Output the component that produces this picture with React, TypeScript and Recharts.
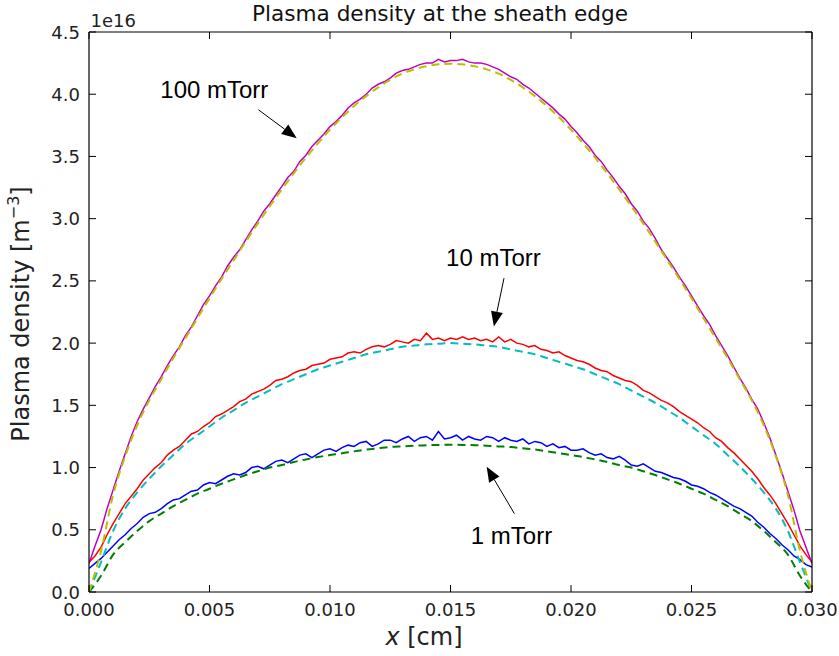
import React from "react";
import { LineChart, Line, XAxis, YAxis, ReferenceLine, ReferenceDot } from "recharts";

// simulation sample positions, cm
const xSim = [
  0, 0.00025, 0.0005, 0.00075, 0.001, 0.00125, 0.0015, 0.00175, 0.002, 0.00225,
  0.0025, 0.00275, 0.003, 0.00325, 0.0035, 0.00375, 0.004, 0.00425, 0.0045, 0.00475,
  0.005, 0.00525, 0.0055, 0.00575, 0.006, 0.00625, 0.0065, 0.00675, 0.007, 0.00725,
  0.0075, 0.00775, 0.008, 0.00825, 0.0085, 0.00875, 0.009, 0.00925, 0.0095, 0.00975,
  0.01, 0.01025, 0.0105, 0.01075, 0.011, 0.01125, 0.0115, 0.01175, 0.012, 0.01225,
  0.0125, 0.01275, 0.013, 0.01325, 0.0135, 0.01375, 0.014, 0.01425, 0.0145, 0.01475,
  0.015, 0.01525, 0.0155, 0.01575, 0.016, 0.01625, 0.0165, 0.01675, 0.017, 0.01725,
  0.0175, 0.01775, 0.018, 0.01825, 0.0185, 0.01875, 0.019, 0.01925, 0.0195, 0.01975,
  0.02, 0.02025, 0.0205, 0.02075, 0.021, 0.02125, 0.0215, 0.02175, 0.022, 0.02225,
  0.0225, 0.02275, 0.023, 0.02325, 0.0235, 0.02375, 0.024, 0.02425, 0.0245, 0.02475,
  0.025, 0.02525, 0.0255, 0.02575, 0.026, 0.02625, 0.0265, 0.02675, 0.027, 0.02725,
  0.0275, 0.02775, 0.028, 0.02825, 0.0285, 0.02875, 0.029, 0.02925, 0.0295, 0.02975,
  0.03,
];

// simulated densities, 1e16 m^-3
const sim100 = [
  0.23, 0.37, 0.5, 0.67, 0.82, 0.97, 1.11, 1.25, 1.37, 1.47,
  1.56, 1.65, 1.73, 1.82, 1.9, 1.97, 2.06, 2.13, 2.22, 2.31,
  2.38, 2.46, 2.53, 2.62, 2.69, 2.75, 2.83, 2.91, 2.98, 3.06,
  3.12, 3.19, 3.26, 3.33, 3.38, 3.46, 3.51, 3.58, 3.63, 3.68,
  3.74, 3.78, 3.83, 3.89, 3.93, 3.96, 4.0, 4.05, 4.08, 4.1,
  4.13, 4.17, 4.19, 4.2, 4.22, 4.24, 4.25, 4.25, 4.28, 4.26,
  4.27,
  4.27, 4.28, 4.26, 4.25, 4.25, 4.24, 4.22, 4.2, 4.17,
  4.14, 4.12, 4.08, 4.05, 4.01, 3.97, 3.93, 3.89, 3.84, 3.8,
  3.74, 3.69, 3.63, 3.58, 3.51, 3.46, 3.39, 3.33, 3.26, 3.2,
  3.12, 3.06, 2.98, 2.92, 2.84, 2.75, 2.68, 2.61, 2.53, 2.46,
  2.38, 2.3, 2.22, 2.15, 2.06, 1.98, 1.9, 1.81, 1.72, 1.64,
  1.55, 1.47, 1.36, 1.24, 1.1, 0.96, 0.81, 0.66, 0.49, 0.36,
  0.23,
];
const sim10 = [
  0.24, 0.29, 0.36, 0.46, 0.55, 0.63, 0.71, 0.77, 0.83, 0.9,
  0.95, 1.0, 1.04, 1.1, 1.14, 1.17, 1.22, 1.27, 1.29, 1.33,
  1.36, 1.41, 1.43, 1.46, 1.49, 1.53, 1.55, 1.59, 1.61, 1.63,
  1.66, 1.7, 1.71, 1.73, 1.76, 1.78, 1.79, 1.82, 1.83, 1.84,
  1.87, 1.88, 1.89, 1.92, 1.93, 1.92, 1.95, 1.97, 1.98, 1.97,
  1.99, 2.02, 2.01, 2.0, 2.03, 2.02, 2.08, 2.03, 2.04, 2.02,
  2.04,
  2.03, 2.05, 2.03, 2.04, 2.02, 2.03, 2.01, 2.05, 2.01, 2.03,
  2.0, 1.99, 1.97, 1.98, 1.95, 1.94, 1.92, 1.93, 1.9, 1.88,
  1.86, 1.85, 1.83, 1.8, 1.78, 1.77, 1.74, 1.72, 1.7, 1.69,
  1.66, 1.62, 1.6, 1.57, 1.54, 1.52, 1.49, 1.45, 1.42, 1.39,
  1.36, 1.32, 1.29, 1.24, 1.21, 1.16, 1.12, 1.07, 1.02, 0.97,
  0.91, 0.84, 0.78, 0.71, 0.63, 0.55, 0.46, 0.37, 0.3, 0.24,
];
const sim1 = [
  0.19, 0.23, 0.27, 0.32, 0.37, 0.42, 0.46, 0.51, 0.55, 0.6,
  0.63, 0.64, 0.67, 0.71, 0.74, 0.75, 0.78, 0.81, 0.82, 0.86,
  0.88, 0.87, 0.9, 0.93, 0.95, 0.94, 0.96, 1.0, 1.01, 0.99,
  1.02, 1.05, 1.06, 1.04, 1.07, 1.1, 1.11, 1.08, 1.11, 1.14,
  1.15, 1.13, 1.16, 1.18, 1.17, 1.2, 1.21, 1.17, 1.19, 1.22,
  1.22, 1.2, 1.23, 1.25, 1.21, 1.24, 1.25, 1.22, 1.29, 1.23,
  1.24,
  1.26, 1.22, 1.25, 1.23, 1.22, 1.25, 1.24, 1.21, 1.24, 1.22,
  1.21, 1.23, 1.19, 1.21, 1.2, 1.17, 1.19, 1.16, 1.17, 1.14,
  1.14, 1.15, 1.12, 1.1, 1.11, 1.08, 1.07, 1.09, 1.06, 1.02,
  1.01, 1.03, 1.0, 0.97, 0.96, 0.94, 0.92, 0.91, 0.89, 0.86,
  0.85, 0.83, 0.8, 0.78, 0.75, 0.72, 0.69, 0.67, 0.64, 0.61,
  0.56, 0.52, 0.47, 0.43, 0.38, 0.34, 0.29, 0.26, 0.22, 0.2,
];

// model curve positions, cm
const xModel = [
  0, 0.0005, 0.001, 0.0015, 0.002, 0.0025, 0.003, 0.0035, 0.004, 0.0045,
  0.005, 0.0055, 0.006, 0.0065, 0.007, 0.0075, 0.008, 0.0085, 0.009, 0.0095,
  0.01, 0.0105, 0.011, 0.0115, 0.012, 0.0125, 0.013, 0.0135, 0.014, 0.0145,
  0.015, 0.0155, 0.016, 0.0165, 0.017, 0.0175, 0.018, 0.0185, 0.019, 0.0195,
  0.02, 0.0205, 0.021, 0.0215, 0.022, 0.0225, 0.023, 0.0235, 0.024, 0.0245,
  0.025, 0.0255, 0.026, 0.0265, 0.027, 0.0275, 0.028, 0.0285, 0.029, 0.0295,
  0.03,
];
const model100 = [
  0, 0.33, 0.78, 1.09, 1.34, 1.54, 1.71, 1.88, 2.04, 2.2,
  2.36, 2.515, 2.665, 2.815, 2.96, 3.1, 3.235, 3.365, 3.49, 3.605,
  3.715, 3.815, 3.905, 3.985, 4.055, 4.115, 4.165, 4.2, 4.225, 4.24,
  4.245, 4.24, 4.225, 4.2, 4.165, 4.115, 4.055, 3.985, 3.905, 3.815,
  3.715, 3.605, 3.49, 3.365, 3.235, 3.1, 2.96, 2.815, 2.665, 2.515,
  2.36, 2.2, 2.04, 1.88, 1.71, 1.54, 1.34, 1.09, 0.78, 0.33,
  0,
];
const model10 = [
  0, 0.24, 0.49, 0.67, 0.8, 0.91, 1.01, 1.1, 1.19, 1.26,
  1.33, 1.4, 1.46, 1.52, 1.57, 1.62, 1.67, 1.71, 1.75, 1.79,
  1.82, 1.85, 1.88, 1.91, 1.93, 1.95, 1.97, 1.98, 1.99, 1.995,
  2.0, 1.995, 1.99, 1.98, 1.97, 1.95, 1.93, 1.91, 1.88, 1.85,
  1.82, 1.79, 1.75, 1.71, 1.67, 1.62, 1.57, 1.52, 1.46, 1.4,
  1.33, 1.26, 1.19, 1.1, 1.01, 0.91, 0.8, 0.67, 0.49, 0.24,
  0,
];
const model1 = [
  0, 0.13, 0.3, 0.4, 0.49, 0.57, 0.63, 0.69, 0.74, 0.79,
  0.83, 0.87, 0.905, 0.94, 0.97, 1.0, 1.02, 1.045, 1.065, 1.085,
  1.1, 1.115, 1.13, 1.145, 1.155, 1.165, 1.17, 1.175, 1.18, 1.182,
  1.183, 1.182, 1.18, 1.175, 1.17, 1.165, 1.155, 1.145, 1.13, 1.115,
  1.1, 1.085, 1.065, 1.045, 1.02, 1.0, 0.97, 0.94, 0.905, 0.87,
  0.83, 0.79, 0.74, 0.69, 0.63, 0.57, 0.49, 0.4, 0.3, 0.13,
  0,
];

const xTicks = [0, 0.005, 0.01, 0.015, 0.02, 0.025, 0.03];
const yTicks = [0, 0.5, 1, 1.5, 2, 2.5, 3, 3.5, 4, 4.5];

// annotation text and arrow (tail -> tip), data coords
const notes = [
  { text: "100 mTorr", tx: 0.0052, ty: 4.04, x1: 0.00703, y1: 3.875, x2: 0.00862, y2: 3.647 },
  { text: "10 mTorr", tx: 0.01678, ty: 2.69, x1: 0.01722, y1: 2.522, x2: 0.0168, y2: 2.133 },
  { text: "1 mTorr", tx: 0.01753, ty: 0.458, x1: 0.01765, y1: 0.63, x2: 0.0165, y2: 1.007 },
];

const simData = xSim.map((x, i) => ({ x, sim100: sim100[i], sim10: sim10[i], sim1: sim1[i] }));
const modelData = xModel.map((x, i) => ({ x, model100: model100[i], model10: model10[i], model1: model1[i] }));

const FONT = "DejaVu Sans, sans-serif";
const TICK = 7;

function LeftTick({ x, y, payload }: any) {
  return (
    <g>
      <line x1={x} y1={y} x2={x + TICK} y2={y} stroke="#000" />
      <text x={x - 9} y={y} textAnchor="end" dominantBaseline="central" fontFamily={FONT} fontSize={18} fill="#222">
        {payload.value.toFixed(1)}
      </text>
    </g>
  );
}

function BottomTick({ x, y, payload }: any) {
  return (
    <g>
      <line x1={x} y1={y} x2={x} y2={y - TICK} stroke="#000" />
      <text x={x} y={y + 17} textAnchor="middle" dominantBaseline="central" fontFamily={FONT} fontSize={18} fill="#222">
        {payload.value.toFixed(3)}
      </text>
    </g>
  );
}

function TopTick({ x, y }: any) {
  return <line x1={x} y1={y} x2={x} y2={y + TICK} stroke="#000" />;
}

function RightTick({ x, y }: any) {
  return <line x1={x} y1={y} x2={x - TICK} y2={y} stroke="#000" />;
}

function Arrow({ x1, y1, x2, y2 }: any) {
  const len = Math.hypot(x2 - x1, y2 - y1);
  const ux = (x2 - x1) / len;
  const uy = (y2 - y1) / len;
  const bx = x2 - ux * 15;
  const by = y2 - uy * 15;
  return (
    <g>
      <line x1={x1} y1={y1} x2={bx} y2={by} stroke="#000" strokeWidth={1} />
      <polygon
        points={`${x2},${y2} ${bx - uy * 6},${by + ux * 6} ${bx + uy * 6},${by - ux * 6}`}
        fill="#000"
      />
    </g>
  );
}

export default function App() {
  const axisLine = { stroke: "#000", strokeWidth: 1.2 };
  return (
    <div style={{ position: "absolute", left: 0, top: 0, width: 839, height: 656, background: "#fff" }}>
      <LineChart width={839} height={656} data={simData} margin={{ top: 0, right: 0, bottom: 0, left: 0 }}>
        <XAxis
          dataKey="x"
          type="number"
          domain={[0, 0.03]}
          ticks={xTicks}
          allowDataOverflow
          height={64}
          tickSize={0}
          tickMargin={0}
          axisLine={axisLine}
          tick={<BottomTick />}
          interval={0}
        />
        <XAxis
          xAxisId="t"
          orientation="top"
          dataKey="x"
          type="number"
          domain={[0, 0.03]}
          ticks={xTicks}
          allowDataOverflow
          height={32}
          tickSize={0}
          tickMargin={0}
          axisLine={axisLine}
          tick={<TopTick />}
          interval={0}
        />
        <YAxis
          type="number"
          domain={[0, 4.5]}
          ticks={yTicks}
          allowDataOverflow
          width={89}
          tickSize={0}
          tickMargin={0}
          axisLine={axisLine}
          tick={<LeftTick />}
          interval={0}
        />
        <YAxis
          yAxisId="r"
          orientation="right"
          type="number"
          domain={[0, 4.5]}
          ticks={yTicks}
          allowDataOverflow
          width={27}
          tickSize={0}
          tickMargin={0}
          axisLine={axisLine}
          tick={<RightTick />}
          interval={0}
        />
        <Line dataKey="sim1" type="linear" stroke="#0000ff" strokeWidth={1.5} dot={false} isAnimationActive={false} />
        <Line dataKey="sim10" type="linear" stroke="#ff0000" strokeWidth={1.5} dot={false} isAnimationActive={false} />
        <Line dataKey="sim100" type="linear" stroke="#bf00bf" strokeWidth={1.5} dot={false} isAnimationActive={false} />
        <Line data={modelData} dataKey="model1" type="monotone" stroke="#008000" strokeWidth={2} strokeDasharray="8 5" dot={false} isAnimationActive={false} />
        <Line data={modelData} dataKey="model10" type="monotone" stroke="#00bfbf" strokeWidth={2} strokeDasharray="8 5" dot={false} isAnimationActive={false} />
        <Line data={modelData} dataKey="model100" type="monotone" stroke="#bfbf00" strokeWidth={2} strokeDasharray="8 5" dot={false} isAnimationActive={false} />
        {notes.map((n) => (
          <ReferenceLine
            key={n.text + "-arrow"}
            segment={[{ x: n.x1, y: n.y1 }, { x: n.x2, y: n.y2 }]}
            shape={(p: any) => <Arrow {...p} />}
          />
        ))}
        {notes.map((n) => (
          <ReferenceDot
            key={n.text}
            x={n.tx}
            y={n.ty}
            r={1}
            shape={(p: any) => (
              <text
                x={p.cx}
                y={p.cy}
                textAnchor="middle"
                dominantBaseline="central"
                fontFamily="Liberation Sans, Arial, sans-serif"
                fontSize={24}
                fill="#000"
              >
                {n.text}
              </text>
            )}
          />
        ))}
      </LineChart>
      <svg width={839} height={656} style={{ position: "absolute", left: 0, top: 0, pointerEvents: "none" }}>
        <text x={440} y={21} textAnchor="middle" fontFamily={FONT} fontSize={21.6} fill="#111">
          Plasma density at the sheath edge
        </text>
        <text x={90.5} y={26.5} fontFamily={FONT} fontSize={18} fill="#222">
          1e16
        </text>
        <text transform="translate(29,314) rotate(-90)" textAnchor="middle" fontFamily={FONT} fontSize={24} fill="#222">
          Plasma density [m
          <tspan dy={-10} fontSize={16}>
            −3
          </tspan>
          <tspan dy={10}>]</tspan>
        </text>
        <text x={424} y={645} textAnchor="middle" fontFamily={FONT} fontSize={24} fill="#222">
          <tspan fontStyle="italic">x</tspan> [cm]
        </text>
      </svg>
    </div>
  );
}
